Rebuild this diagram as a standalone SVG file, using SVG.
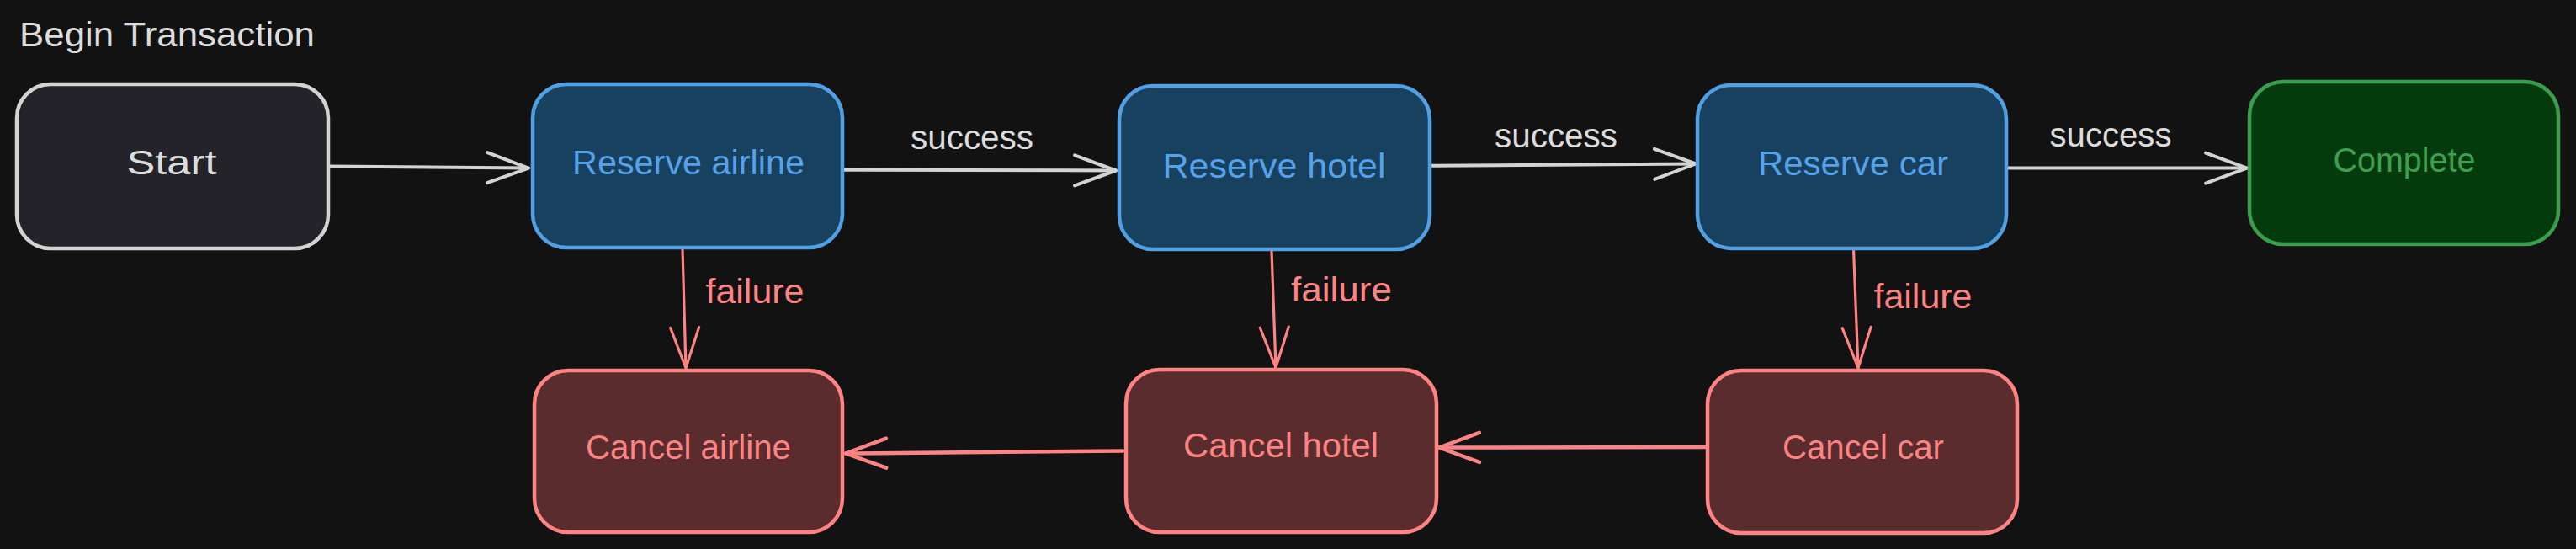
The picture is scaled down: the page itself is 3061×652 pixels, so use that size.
<svg xmlns="http://www.w3.org/2000/svg" width="3061" height="652" viewBox="0 0 3061 652">
  <style>
    text { font-family: "Liberation Sans", Arial, sans-serif; font-size: 40px; }
    .lbl { text-anchor: middle; }
    .box { stroke-width: 4.5; }
    .start { fill: #232329; stroke: #d3d3d3; }
    .blue { fill: #18405f; stroke: #52a0e4; }
    .red { fill: #5a2c2d; stroke: #ff8383; }
    .green { fill: #043b0c; stroke: #3a9e4e; }
    .t-white { fill: #dcdcdc; }
    .t-blue { fill: #56a2e8; }
    .t-red { fill: #ff8383; }
    .t-green { fill: #3ea04f; }
    .c-grey { fill: none; stroke: #d3d3d3; stroke-width: 4; stroke-linecap: round; }
    .c-red { fill: none; stroke: #ff8383; stroke-width: 3.2; stroke-linecap: round; }
    .c-red-thick { fill: none; stroke: #ff8383; stroke-width: 4.5; stroke-linecap: round; }
  </style>
  <defs>
    <marker id="ah-grey" viewBox="-55 -25 60 50" refX="0" refY="0" markerWidth="60" markerHeight="50" markerUnits="userSpaceOnUse" orient="auto" overflow="visible">
      <path d="M-49,-18 L0,0 L-49,18" fill="none" stroke="#d3d3d3" stroke-width="4" stroke-linecap="round" stroke-linejoin="round"/>
    </marker>
    <marker id="ah-red" viewBox="-55 -25 60 50" refX="0" refY="0" markerWidth="60" markerHeight="50" markerUnits="userSpaceOnUse" orient="auto" overflow="visible">
      <path d="M-48,-17 L0,0 L-48,17" fill="none" stroke="#ff8383" stroke-width="3.2" stroke-linecap="round" stroke-linejoin="round"/>
    </marker>
    <marker id="ah-red-thick" viewBox="-55 -25 60 50" refX="0" refY="0" markerWidth="60" markerHeight="50" markerUnits="userSpaceOnUse" orient="auto" overflow="visible">
      <path d="M-48,-17.5 L0,0 L-48,17.5" fill="none" stroke="#ff8383" stroke-width="4.5" stroke-linecap="round" stroke-linejoin="round"/>
    </marker>
  </defs>

  <rect x="0" y="0" width="3061" height="652" fill="#121212"/>

  <text id="title" x="23" y="55" class="t-white" textLength="351" lengthAdjust="spacingAndGlyphs">Begin Transaction</text>

  <g id="connectors">
    <path id="e-start-ra" class="c-grey" d="M392,197.5 L628,199.6" marker-end="url(#ah-grey)"/>
    <path id="e-ra-rh" class="c-grey" d="M1003,201.7 L1326,202.5" marker-end="url(#ah-grey)"/>
    <path id="e-rh-rc" class="c-grey" d="M1701,196.7 L2015,194.5" marker-end="url(#ah-grey)"/>
    <path id="e-rc-complete" class="c-grey" d="M2386,199.6 L2670,199.6" marker-end="url(#ah-grey)"/>
    <path id="e-ra-ca" class="c-red" d="M811,296 L815,437" marker-end="url(#ah-red)"/>
    <path id="e-rh-ch" class="c-red" d="M1511,298.5 L1516,436.6" marker-end="url(#ah-red)"/>
    <path id="e-rc-cc" class="c-red" d="M2202.6,298 L2208,437" marker-end="url(#ah-red)"/>
    <path id="e-ch-ca" class="c-red-thick" d="M1334,535.5 L1005,538.5" marker-end="url(#ah-red-thick)"/>
    <path id="e-cc-ch" class="c-red-thick" d="M2028,531 L1710,531.5" marker-end="url(#ah-red-thick)"/>
    <text class="lbl t-white" x="1155" y="177" textLength="146" lengthAdjust="spacingAndGlyphs">success</text>
    <text class="lbl t-white" x="1849" y="175" textLength="146" lengthAdjust="spacingAndGlyphs">success</text>
    <text class="lbl t-white" x="2508" y="174" textLength="145" lengthAdjust="spacingAndGlyphs">success</text>
    <text class="lbl t-red" x="897" y="360" textLength="117" lengthAdjust="spacingAndGlyphs">failure</text>
    <text class="lbl t-red" x="1594" y="358" textLength="120" lengthAdjust="spacingAndGlyphs">failure</text>
    <text class="lbl t-red" x="2285" y="366" textLength="117" lengthAdjust="spacingAndGlyphs">failure</text>
  </g>

  <g id="start">
    <rect class="box start" x="20" y="100" width="370" height="195" rx="40" ry="40"/>
    <text class="lbl t-white" x="204" y="207" textLength="107" lengthAdjust="spacingAndGlyphs">Start</text>
  </g>
  <g id="reserve-airline">
    <rect class="box blue" x="633" y="100" width="368" height="194" rx="40" ry="40"/>
    <text class="lbl t-blue" x="818" y="207" textLength="276" lengthAdjust="spacingAndGlyphs">Reserve airline</text>
  </g>
  <g id="reserve-hotel">
    <rect class="box blue" x="1330" y="102" width="369" height="194" rx="40" ry="40"/>
    <text class="lbl t-blue" x="1514" y="211" textLength="265" lengthAdjust="spacingAndGlyphs">Reserve hotel</text>
  </g>
  <g id="reserve-car">
    <rect class="box blue" x="2017" y="101" width="367" height="194" rx="40" ry="40"/>
    <text class="lbl t-blue" x="2202" y="208" textLength="226" lengthAdjust="spacingAndGlyphs">Reserve car</text>
  </g>
  <g id="complete">
    <rect class="box green" x="2673" y="97" width="367" height="193" rx="40" ry="40"/>
    <text class="lbl t-green" x="2857" y="204" textLength="169" lengthAdjust="spacingAndGlyphs">Complete</text>
  </g>
  <g id="cancel-airline">
    <rect class="box red" x="635" y="440" width="366" height="192" rx="40" ry="40"/>
    <text class="lbl t-red" x="818" y="545" textLength="244" lengthAdjust="spacingAndGlyphs">Cancel airline</text>
  </g>
  <g id="cancel-hotel">
    <rect class="box red" x="1338" y="439" width="369" height="193" rx="40" ry="40"/>
    <text class="lbl t-red" x="1522" y="543" textLength="232" lengthAdjust="spacingAndGlyphs">Cancel hotel</text>
  </g>
  <g id="cancel-car">
    <rect class="box red" x="2029" y="440" width="368" height="193" rx="40" ry="40"/>
    <text class="lbl t-red" x="2214" y="545" textLength="192" lengthAdjust="spacingAndGlyphs">Cancel car</text>
  </g>
</svg>
